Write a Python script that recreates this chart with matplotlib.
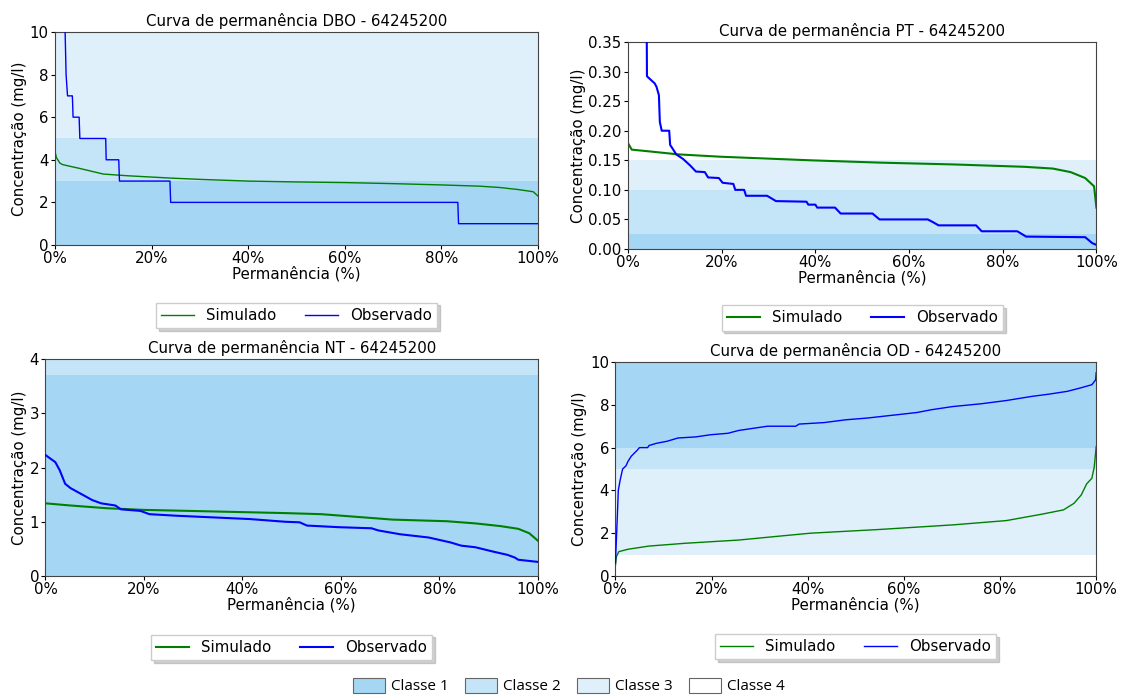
import matplotlib
matplotlib.use("Agg")
import matplotlib.pyplot as plt
import matplotlib.patches as mpatches
from matplotlib.ticker import PercentFormatter

# ---------------------------------------------------------------------------
# Dados lidos das curvas de permanência - estação 64245200
# ---------------------------------------------------------------------------
# DBO
dbo_sim_x = [0, 0.3, 1, 1.5, 3, 5, 10, 15, 24, 30, 40, 50, 60, 70, 80, 88, 92, 96, 99, 100]
dbo_sim_y = [4.4, 4.1, 3.85, 3.78, 3.7, 3.6, 3.33, 3.25, 3.14, 3.08, 3.0, 2.96, 2.93,
             2.88, 2.82, 2.76, 2.7, 2.6, 2.5, 2.3]
dbo_obs_x = [2.05, 2.1, 2.3, 2.6, 3.6, 3.75, 5.0, 5.15, 10.5, 10.6, 13.2, 13.35,
             23.8, 23.95, 83.4, 83.55, 100]
dbo_obs_y = [12, 10, 8, 7, 7, 6, 6, 5, 5, 4, 4, 3, 3, 2, 2, 1, 1]

# PT
pt_sim_x = [0, 0.8, 4.6, 10.7, 19.8, 38.9, 54, 69.4, 84.6, 90.7, 94.5, 97.6, 99.5, 100]
pt_sim_y = [0.179, 0.168, 0.165, 0.16, 0.156, 0.15, 0.146, 0.143, 0.139, 0.136,
            0.13, 0.12, 0.106, 0.07]
pt_obs_x = [4.0, 4.05, 5.7, 6.1, 6.6, 6.8, 7.2, 8.8, 9.0, 9.5, 10.3, 11.8, 13.3, 14.5,
            16.4, 17.1, 19.4, 20.2, 22.5, 22.9, 24.8, 25.2, 29.7, 31.6, 38.1, 38.5,
            40.0, 40.4, 44.2, 45.4, 52.2, 53.7, 64.0, 65.2, 66.3, 74.3, 75.5, 83.1,
            85.0, 97.6, 99.1, 100]
pt_obs_y = [0.37, 0.292, 0.28, 0.274, 0.26, 0.215, 0.20, 0.20, 0.176, 0.17, 0.16,
            0.152, 0.141, 0.131, 0.13, 0.121, 0.12, 0.112, 0.11, 0.10, 0.10, 0.09,
            0.09, 0.081, 0.08, 0.075, 0.075, 0.07, 0.07, 0.06, 0.06, 0.05, 0.05,
            0.045, 0.04, 0.04, 0.03, 0.03, 0.021, 0.02, 0.01, 0.007]

# NT
nt_sim_x = [0, 5.1, 12.4, 19.6, 34.2, 48.7, 56, 63.3, 70.5, 81.5, 87.3, 92.4, 96, 98.2, 100]
nt_sim_y = [1.34, 1.30, 1.25, 1.22, 1.19, 1.16, 1.14, 1.09, 1.04, 1.01, 0.97, 0.92,
            0.87, 0.79, 0.65]
nt_obs_x = [0, 2.0, 2.9, 4.0, 5.1, 7.3, 9.5, 11.3, 14.2, 15.3, 19.3, 21.1, 26.9, 34.2,
            41.5, 48.7, 51.6, 53.1, 59.6, 66.2, 67.6, 72.0, 77.8, 82.2, 84.4, 87.3,
            90.9, 93.8, 95.3, 96.0, 100]
nt_obs_y = [2.23, 2.1, 1.95, 1.70, 1.62, 1.51, 1.40, 1.34, 1.30, 1.23, 1.2, 1.14, 1.11,
            1.08, 1.05, 1.0, 0.99, 0.93, 0.9, 0.88, 0.84, 0.77, 0.71, 0.62, 0.56, 0.53,
            0.45, 0.39, 0.34, 0.3, 0.26]

# OD
od_sim_x = [0, 0.2, 0.7, 2.6, 7, 14.5, 25.6, 33, 40.5, 55.3, 70.2, 81.3, 88.7, 93.2,
            95.4, 96.9, 98, 99.1, 99.6, 100]
od_sim_y = [0.5, 0.9, 1.14, 1.25, 1.4, 1.53, 1.68, 1.84, 2.0, 2.18, 2.39, 2.59, 2.89,
            3.09, 3.4, 3.79, 4.3, 4.57, 5.1, 6.05]
od_obs_x = [0, 0.4, 0.6, 1.0, 1.5, 2.2, 2.6, 3.3, 4.5, 5.0, 6.7, 7.0, 8.5, 10.8, 13.0,
            16.7, 19.7, 23.4, 25.6, 28.6, 31.6, 37.5, 38.2, 43.4, 47.9, 52.3, 58.3,
            62.7, 65.7, 70.2, 76.1, 81.3, 86.5, 90.2, 94.0, 96.9, 99.1, 99.9, 100]
od_obs_y = [0.6, 2.8, 4.0, 4.5, 5.0, 5.15, 5.35, 5.6, 5.87, 6.0, 6.0, 6.1, 6.2, 6.3,
            6.45, 6.5, 6.6, 6.67, 6.8, 6.9, 7.0, 7.0, 7.1, 7.17, 7.3, 7.38, 7.53, 7.64,
            7.77, 7.92, 8.05, 8.2, 8.39, 8.5, 8.63, 8.8, 8.94, 9.17, 9.5]

# Faixas de enquadramento: (limite inferior, limite superior, classe)
dbo_faixas = [(0, 3, 1), (3, 5, 2), (5, 10, 3)]
pt_faixas = [(0, 0.025, 1), (0.025, 0.10, 2), (0.10, 0.15, 3)]
nt_faixas = [(0, 3.7, 1), (3.7, 4.0, 2)]
od_faixas = [(1, 5, 3), (5, 6, 2), (6, 10, 1)]

classes = ["Classe 1", "Classe 2", "Classe 3", "Classe 4"]
cores_classe = {1: "#a5d7f5", 2: "#c4e4f8", 3: "#dff0fb", 4: "#ffffff"}

# ---------------------------------------------------------------------------
fig = plt.figure(figsize=(11.22, 6.95), dpi=100)
fs = 10.8

paineis = [
    # (posição, titulo, sim, obs, faixas, ylim, yticks, fmt, lw)
    ([0.049, 0.6475, 0.4305, 0.3065], "Curva de permanência DBO - 64245200",
     (dbo_sim_x, dbo_sim_y), (dbo_obs_x, dbo_obs_y), dbo_faixas, (0, 10),
     [0, 2, 4, 6, 8, 10], "{:.0f}", 1.0),
    ([0.5597, 0.6417, 0.4175, 0.2979], "Curva de permanência PT - 64245200",
     (pt_sim_x, pt_sim_y), (pt_obs_x, pt_obs_y), pt_faixas, (0, 0.35),
     [0, 0.05, 0.10, 0.15, 0.20, 0.25, 0.30, 0.35], "{:.2f}", 1.5),
    ([0.0405, 0.1712, 0.439, 0.3122], "Curva de permanência NT - 64245200",
     (nt_sim_x, nt_sim_y), (nt_obs_x, nt_obs_y), nt_faixas, (0, 4),
     [0, 1, 2, 3, 4], "{:.0f}", 1.5),
    ([0.5485, 0.1712, 0.4285, 0.3079], "Curva de permanência OD - 64245200",
     (od_sim_x, od_sim_y), (od_obs_x, od_obs_y), od_faixas, (0, 10),
     [0, 2, 4, 6, 8, 10], "{:.0f}", 1.0),
]

for pos, titulo, sim, obs, faixas, ylim, yticks, fmt, lw in paineis:
    ax = fig.add_axes(pos)
    for lo, hi, c in faixas:
        ax.axhspan(lo, hi, color=cores_classe[c], linewidth=0, zorder=0)
    ax.plot(sim[0], sim[1], color="green", linewidth=lw, label="Simulado", zorder=2)
    ax.plot(obs[0], obs[1], color="blue", linewidth=lw, label="Observado", zorder=3)
    ax.set_xlim(0, 100)
    ax.set_ylim(*ylim)
    ax.set_yticks(yticks)
    ax.set_yticklabels([fmt.format(v) for v in yticks])
    ax.set_xticks([0, 20, 40, 60, 80, 100])
    ax.xaxis.set_major_formatter(PercentFormatter(decimals=0))
    ax.tick_params(labelsize=fs, length=3, pad=1.5)
    ax.set_title(titulo, fontsize=fs, pad=4)
    ax.set_xlabel("Permanência (%)", fontsize=fs, labelpad=0)
    ax.set_ylabel("Concentração (mg/l)", fontsize=fs, labelpad=2)
    for s in ax.spines.values():
        s.set_color("#444444")
    ax.legend(loc="upper center", bbox_to_anchor=(0.5, -0.235), ncol=2,
              fontsize=fs, frameon=True, fancybox=False,
              shadow={"color": "#999999", "alpha": 0.45},
              columnspacing=1.9, handlelength=2.2, borderpad=0.35)

# Legenda das classes
handles = [mpatches.Patch(facecolor=cores_classe[i + 1], edgecolor="#666666",
                          linewidth=0.8, label=classes[i]) for i in range(4)]
fig.legend(handles=handles, loc="center", bbox_to_anchor=(0.507, 0.013), ncol=4,
           frameon=False, handlelength=2.1, handleheight=1.15,
           handletextpad=0.35, columnspacing=1.1,
           prop={"family": "Open Sans", "size": 11})

plt.savefig("out.png", dpi=100)
